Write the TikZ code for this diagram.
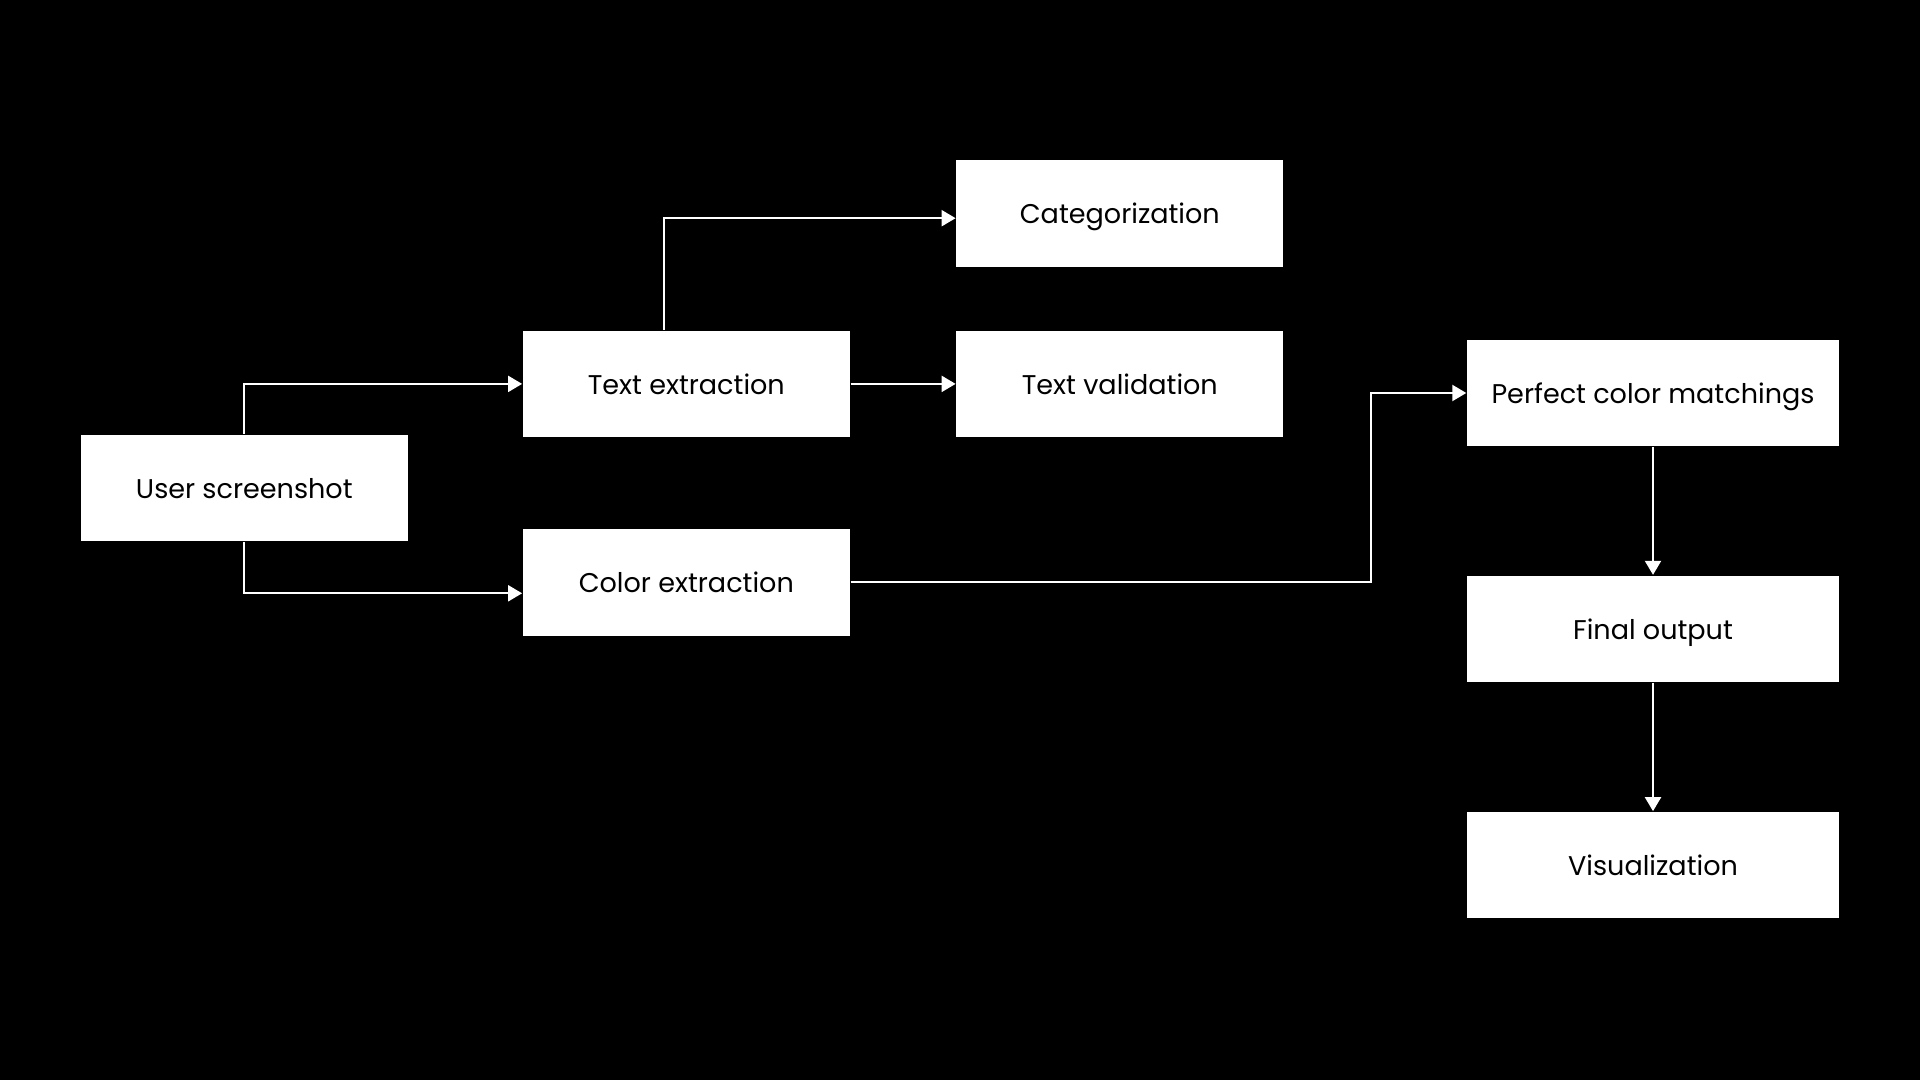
\documentclass[tikz,border=0pt]{standalone}
\usepackage{fontspec}
\setmainfont{Poppins}
\usetikzlibrary{arrows.meta}

\tikzset{
  box/.style={fill=white, text=black, minimum width=3.27cm, minimum height=1.065cm,
    inner sep=0pt, text depth=0pt, font=\fontsize{7.7}{9}\selectfont},
  widebox/.style={box, minimum width=3.72cm},
  link/.style={draw=white, line width=0.6pt, -{Triangle[length=1.4mm, width=1.6mm]}}
}

\begin{document}
\begin{tikzpicture}
\fill[black] (0,0) rectangle (19.2,-10.8);
\useasboundingbox (0,0) rectangle (19.2,-10.8);

\node[box] (US) at (2.443,-4.880) {User screenshot};
\node[box] (TE) at (6.863,-3.839) {Text extraction};
\node[box] (CE) at (6.863,-5.823) {Color extraction};
\node[box] (CAT) at (11.198,-2.137) {Categorization};
\node[box] (TV) at (11.198,-3.839) {Text validation};
\node[widebox] (PCM) at (16.53,-3.930) {Perfect color matchings};
\node[widebox] (FO) at (16.53,-6.288) {Final output};
\node[widebox] (VIS) at (16.53,-8.651) {Visualization};

\draw[link] (US.north) |- (TE.west);
\draw[link] (US.south) |- ([yshift=-1.1mm]CE.west);
\draw[link] ([xshift=-2.26mm]TE.north) |- ([yshift=-0.45mm]CAT.west);
\draw[link] (TE.east) -- (TV.west);
\draw[link] (CE.east) -| ([xshift=-9.56mm]PCM.west) -- (PCM.west);
\draw[link] (PCM.south) -- (FO.north);
\draw[link] (FO.south) -- (VIS.north);

\end{tikzpicture}
\end{document}
